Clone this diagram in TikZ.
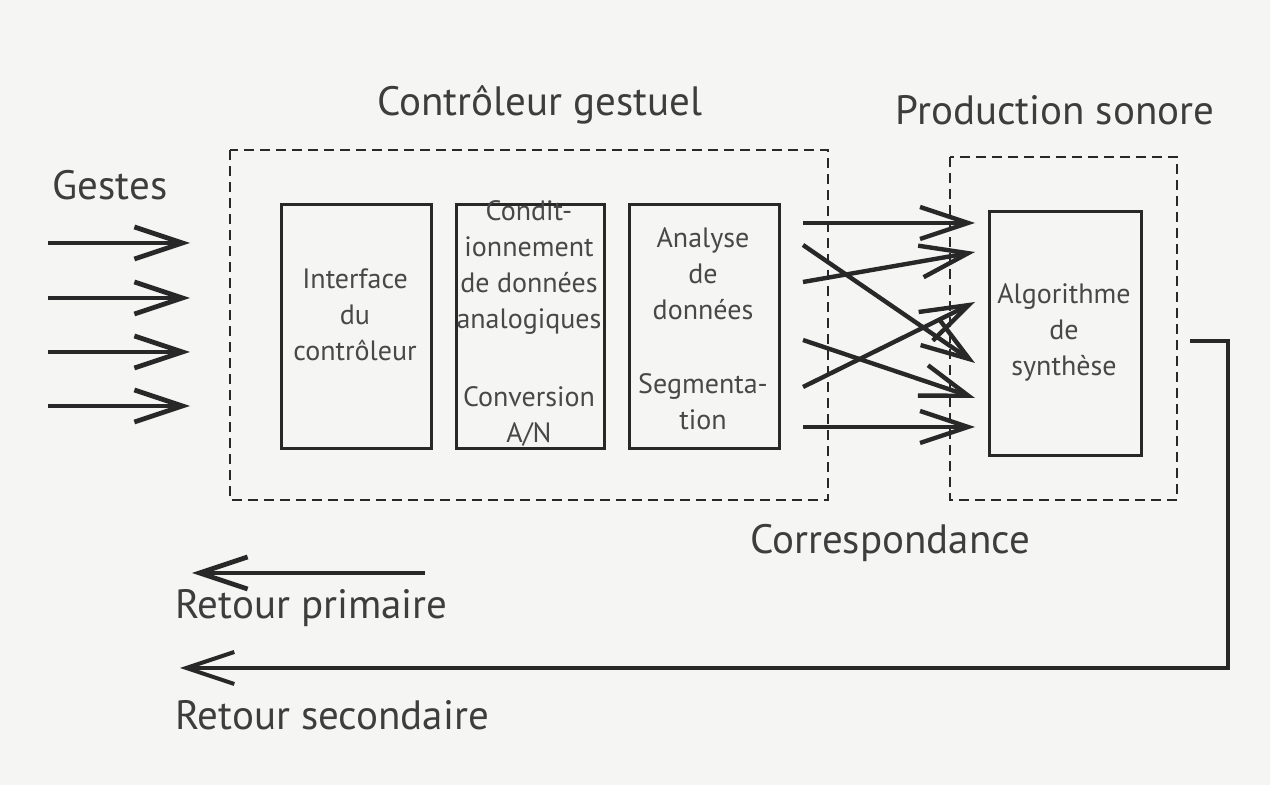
\documentclass[tikz,border=0pt]{standalone}
\usepackage{fontspec}
\setmainfont{PT Sans}
\usetikzlibrary{arrows.meta}
\definecolor{papier}{RGB}{245,245,244}
\definecolor{encre}{RGB}{40,40,40}

\tikzset{
	bloc/.style={draw=encre, line width=1.4pt, anchor=north west, inner sep=0pt},
	texte/.style={text=encre!85, align=center, inner sep=0pt, font=\fontsize{14}{18}\selectfont},
	titre/.style={text=encre!90, inner sep=0pt, font=\fontsize{20.5}{24}\selectfont},
	cadre/.style={draw=encre, line width=1.4pt, dash pattern=on 5pt off 3pt},
	fleche/.style={draw=encre, line width=2.4pt, -{Straight Barb[length=24pt,width=16pt]}},
}

\begin{document}
\begin{tikzpicture}[x=0.5pt, y=-0.5pt]
	\fill[papier] (0,0) rectangle (1270,785);
	\useasboundingbox (0,0) rectangle (1270,785);
	% titres
	\node[titre] (gestes) at (110,185) {Gestes};
	\node[titre] (controleur) at (540,105) {Contrôleur gestuel};
	\node[titre] (production) at (1055,110) {Production sonore};
	\node[titre] (correspondance) at (890,543) {Correspondance};
	\node[titre, anchor=west] (primaire) at (175,608) {Retour primaire};
	\node[titre, anchor=west] (secondaire) at (175,715) {Retour secondaire};
	% cadres en tirets
	\draw[cadre] (230,150) rectangle (828,500);
	\draw[cadre] (950,157) rectangle (1177,500);
	% blocs
	\node[bloc, minimum width=75pt, minimum height=122pt] (interface) at (280,203) {};
	\node[bloc, minimum width=74pt, minimum height=122pt] (conditionnement) at (455,203) {};
	\node[bloc, minimum width=75pt, minimum height=122pt] (analyse) at (628,203) {};
	\node[bloc, minimum width=76pt, minimum height=122pt] (algorithme) at (988,210) {};
	\node[texte] (t-interface) at (355,315) {Interface\\du\\contrôleur};
	\node[texte] (t-condit) at (529,268) {Condit-\\ionnement\\de données\\analogiques};
	\node[texte] (t-conversion) at (529,416) {Conversion\\A/N};
	\node[texte] (t-analyse) at (703,274) {Analyse\\de\\données};
	\node[texte] (t-segment) at (703,402) {Segmenta-\\tion};
	\node[texte] (t-algo) at (1064,332) {Algorithme\\de\\synthèse};
	% gestes en entree
	\foreach \y [count=\i] in {243,298,352,406} {
		\coordinate (geste\i) at (48,\y);
		\coordinate (entree\i) at (190,\y);
		\draw[fleche] (geste\i) -- (entree\i);
	}
	% correspondance
	\foreach \ya/\yb [count=\i] in {223/223, 282/252, 245/363, 340/398, 387/302, 427/427} {
		\coordinate (depart\i) at (803,\ya);
		\coordinate (arrivee\i) at (975,\yb);
		\draw[fleche, line width=2.2pt] (depart\i) -- (arrivee\i);
	}
	% retours
	\coordinate (sortie) at (1190,341);
	\coordinate (coude) at (1228,341);
	\coordinate (fin-secondaire) at (180,668);
	\coordinate (debut-primaire) at (425,573);
	\coordinate (fin-primaire) at (192,573);
	\draw[fleche] (debut-primaire) -- (fin-primaire);
	\draw[fleche, line width=2pt] (sortie) -- (coude) |- (fin-secondaire);
\end{tikzpicture}
\end{document}
